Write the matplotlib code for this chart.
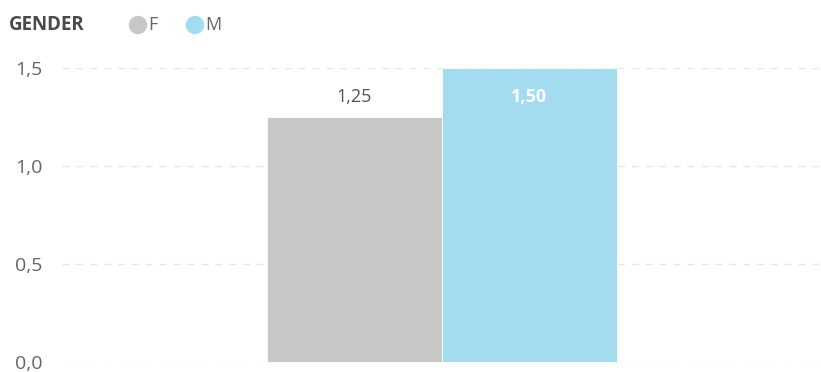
import matplotlib.pyplot as plt
from matplotlib.patches import Ellipse
from matplotlib.ticker import FixedLocator, FuncFormatter

plt.rcParams['font.family'] = ['Open Sans', 'DejaVu Sans']

genders = ['F', 'M']
values = [1.25, 1.50]
colors = ['#c8c8c8', '#a3dcee']
yticks = [0.0, 0.5, 1.0, 1.5]

W, H = 821, 372
fig = plt.figure(figsize=(W / 100, H / 100), dpi=100)
ax = fig.add_axes([62 / W, 10 / H, 759 / W, 294 / H])

width = 175 / 759 * 2  # x axis spans 0..2
xs = [1 - width / 2, 1 + width / 2]
for x, v, c in zip(xs, values, colors):
    ax.bar(x, v, width=width, color=c, edgecolor='white', linewidth=0.6, clip_on=False)


def fmt(v, nd):
    return f'{v:.{nd}f}'.replace('.', ',')


# value labels: F above its bar, M inside its bar
ax.text(xs[0], values[0] + 0.10, fmt(values[0], 2), ha='center', va='center',
        fontsize=13, color='#555555')
ax.text(xs[1], values[1] - 0.148, fmt(values[1], 2), ha='center', va='center',
        fontsize=13, color='white', fontweight='bold')

ax.set_xlim(0, 2)
ax.set_ylim(0, 1.5)
ax.yaxis.set_major_locator(FixedLocator(yticks))
ax.yaxis.set_major_formatter(FuncFormatter(lambda v, p: fmt(v, 1)))
ax.tick_params(axis='y', length=0, pad=14, labelsize=14, labelcolor='#666666')
ax.set_xticks([])
ax.grid(axis='y', color='#e6e6e6', linestyle=(0, (5, 5)), linewidth=1)
ax.set_axisbelow(True)
for s in ax.spines.values():
    s.set_visible(False)

# legend row
ly = 1 - 25 / H
fig.text(9 / W, ly, 'GENDER', ha='left', va='center', fontsize=13.5,
         color='#4a4a4a', fontweight='bold')
for cx, c, g in zip([138, 195], colors, genders):
    fig.add_artist(Ellipse((cx / W, ly), 17 / W, 17 / H, transform=fig.transFigure,
                           color=c))
    fig.text((cx + 10) / W, ly, g, ha='left', va='center', fontsize=13,
             color='#666666')

fig.savefig('out.png', dpi=100)
